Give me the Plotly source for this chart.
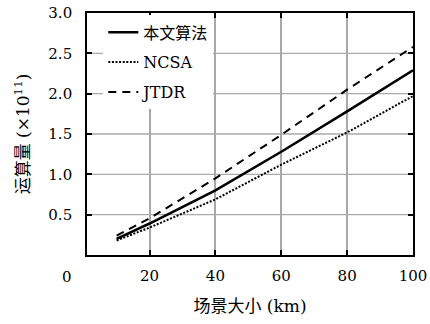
import plotly.graph_objects as go

# Data
scene_size = [10, 20, 40, 60, 80, 100]
ours = [0.20, 0.39, 0.80, 1.28, 1.78, 2.29]
ncsa = [0.18, 0.34, 0.69, 1.12, 1.52, 1.97]
jtdr = [0.24, 0.455, 0.95, 1.49, 2.05, 2.58]

x_ticks = [20, 40, 60, 80, 100]
y_ticks = [0.5, 1.0, 1.5, 2.0, 2.5, 3.0]
y_ticktext = ["0.5", "1.0", "1.5", "2.0", "2.5", "3.0"]
x_range = [1, 100]
y_range = [0, 3]

LAT = "DejaVu Serif, Noto Sans CJK SC"

fig = go.Figure()

# horizontal grid lines built from the y tick values, drawn as a background trace
grid_x, grid_y = [], []
for yv in y_ticks[:-1]:
    grid_x += [x_range[0], x_range[1], None]
    grid_y += [yv, yv, None]
fig.add_trace(go.Scatter(x=grid_x, y=grid_y, mode="lines", showlegend=False,
                         hoverinfo="skip", line=dict(color="#aaaaaa", width=1.3)))

fig.add_trace(go.Scatter(x=scene_size, y=ours, mode="lines", name="本文算法",
                         legendgroup="a", line=dict(color="black", width=2.6)))
fig.add_trace(go.Scatter(x=scene_size, y=ncsa, mode="lines", name="NCSA",
                         legendgroup="b", line=dict(color="black", width=2, dash="2px,1.6px")))
fig.add_trace(go.Scatter(x=scene_size, y=jtdr, mode="lines", name="JTDR",
                         legendgroup="c", line=dict(color="black", width=2, dash="8px,6px")))

fig.update_layout(
    template="none",
    width=430, height=324,
    margin=dict(l=87, r=17, t=13, b=69),
    paper_bgcolor="white", plot_bgcolor="white",
    font=dict(family=LAT, size=15, color="black"),
    showlegend=True,
    legend=dict(x=0.05, y=0.99, xanchor="left", yanchor="top",
                bgcolor="white", borderwidth=0, tracegroupgap=6,
                font=dict(family=LAT, size=16, color="black")),
    xaxis=dict(range=x_range, tickvals=x_ticks, ticks="inside", ticklen=5,
               tickcolor="black", tickwidth=1.5, mirror="allticks", showline=True,
               linecolor="black", linewidth=1.6, showgrid=True,
               gridcolor="#a8a8a8", gridwidth=1.5, zeroline=False, automargin=False,
               ticklabelstandoff=6,
               title=dict(text="场景大小 (km)", standoff=16,
                          font=dict(family=LAT, size=17, color="black"))),
    yaxis=dict(range=y_range, tickvals=y_ticks, ticktext=y_ticktext, ticks="inside",
               ticklen=5, tickcolor="black", tickwidth=1.5, mirror="allticks",
               showline=True, linecolor="black", linewidth=1.6, showgrid=False,
               zeroline=False, automargin=False, ticklabelstandoff=10,
               title=dict(text="运算量 (×10<sup>11</sup>)", standoff=14,
                          font=dict(family=LAT, size=17, color="black"))),
)

fig.add_annotation(text="0", xref="paper", yref="paper", x=-0.06, y=-0.09,
                   showarrow=False, font=dict(family=LAT, size=15, color="black"),
                   xanchor="center", yanchor="middle")

fig.write_html("out.html")
